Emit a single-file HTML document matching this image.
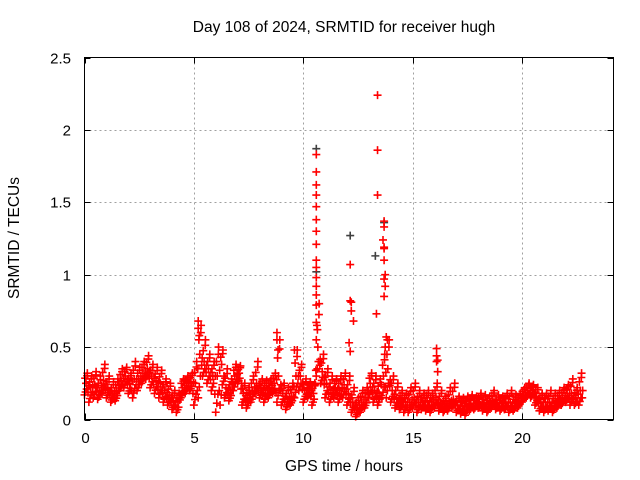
<!DOCTYPE html>
<html><head><meta charset="utf-8"><style>
body{margin:0;background:#fff}
svg{display:block;font-family:"Liberation Sans",sans-serif}
</style></head><body>
<svg id="chart" width="640" height="480">
<text x="344" y="32" font-size="15.5" text-anchor="middle" fill="#000">Day 108 of 2024, SRMTID for receiver hugh</text>
<text x="344" y="471" font-size="15.5" text-anchor="middle" fill="#000">GPS time / hours</text>
<text transform="translate(19,238) rotate(-90)" font-size="15.5" text-anchor="middle" fill="#000">SRMTID / TECUs</text>
<g id="grid"></g>
<g id="ticks"></g>
<g id="marks"></g>
<rect x="84.5" y="57.5" width="529" height="362" fill="none" stroke="#000"/>
</svg>
<script>
const times=[];for(let i=0;i<=113;i++)times.push(+(i*0.2).toFixed(1));
const lo=[.17,.12,.15,.14,.18,.15,.12,.13,.20,.22,.18,.15,.20,.25,.28,.22,.18,.15,.12,.10,.07,.05,.15,.18,.20,.10,.15,.30,.25,.20,.05,.10,.15,.13,.20,.25,.10,.08,.12,.18,.15,.12,.15,.18,.12,.10,.07,.10,.15,.20,.12,.15,.10,.30,.25,.15,.12,.15,.12,.15,.10,.05,.02,.05,.08,.15,.12,.10,.15,.15,.12,.08,.07,.05,.05,.08,.05,.07,.06,.05,.08,.06,.05,.06,.08,.05,.04,.03,.06,.07,.08,.06,.05,.08,.07,.06,.07,.05,.06,.08,.12,.15,.15,.10,.06,.05,.06,.05,.08,.10,.12,.10,.10,.10];
const mid=[.25,.22,.24,.20,.27,.22,.18,.20,.27,.30,.25,.28,.28,.32,.35,.30,.27,.25,.20,.17,.13,.12,.22,.25,.26,.25,.45,.40,.35,.30,.30,.38,.22,.20,.30,.32,.18,.15,.20,.25,.22,.20,.22,.25,.30,.18,.14,.16,.30,.30,.20,.22,.18,.50,.33,.25,.20,.22,.20,.24,.18,.12,.08,.12,.15,.25,.20,.18,.30,.35,.20,.15,.13,.12,.12,.15,.12,.12,.13,.12,.15,.12,.10,.12,.14,.10,.09,.10,.11,.11,.12,.11,.10,.13,.11,.11,.12,.12,.11,.13,.17,.20,.20,.16,.12,.12,.12,.11,.13,.15,.18,.18,.15,.20];
const hi=[.32,.30,.33,.30,.38,.30,.26,.28,.35,.36,.32,.40,.36,.40,.44,.38,.36,.34,.28,.25,.20,.18,.28,.30,.32,.40,.65,.55,.45,.40,.50,.48,.35,.28,.38,.37,.25,.22,.30,.40,.28,.27,.28,.32,.55,.25,.22,.25,.48,.38,.28,.26,.25,.80,.45,.35,.30,.28,.30,.32,.30,.22,.15,.20,.22,.32,.30,.28,.45,.55,.30,.25,.20,.18,.22,.25,.20,.18,.20,.18,.25,.20,.16,.22,.25,.16,.15,.16,.17,.16,.18,.17,.16,.20,.17,.16,.18,.20,.17,.18,.22,.25,.24,.22,.18,.18,.20,.18,.20,.22,.24,.28,.22,.32];
const spikeT=[10.6,10.6,10.6,10.6,10.6,10.6,10.6,10.6,10.6,10.6,10.6,10.6,10.6,10.6,10.6,10.65,10.6,12.15,12.15,12.2,12.2,12.3,12.1,12.15,13.4,13.4,13.4,13.35,13.7,13.7,13.65,13.7,13.7,13.7,13.75,13.7,13.75,13.7,13.8,13.85,13.75,16.1,16.1,16.15,16.1,16.15,8.8,8.8,8.85,9.6,5.2,5.2,5.25];
const spikeV=[1.83,1.71,1.62,1.55,1.47,1.38,1.30,1.21,1.10,1.05,0.98,0.92,0.86,0.79,0.67,0.62,0.55,1.07,0.82,0.81,0.75,0.68,0.53,0.47,2.24,1.86,1.55,0.73,1.37,1.33,1.24,1.19,1.18,1.10,1.00,0.97,0.92,0.85,0.57,0.55,0.50,0.49,0.44,0.41,0.40,0.33,0.60,0.55,0.48,0.48,0.68,0.63,0.58];
const darkT=[10.6,12.15,13.3,10.6,13.7];
const darkV=[1.87,1.27,1.13,1.02,1.36];
const xTicks=[0,5,10,15,20];
const yTicks=[0,0.5,1,1.5,2,2.5];
const yLabels=["0","0.5","1","1.5","2","2.5"];
const NS="http://www.w3.org/2000/svg";
const X0=84.5,X1=613.5,Y0=419.5,Y1=57.5,XMAX=24.19,YMAX=2.5;
const sx=t=>X0+t/XMAX*(X1-X0), sy=v=>Y0-v/YMAX*(Y0-Y1);
const grid=document.getElementById('grid'),ticks=document.getElementById('ticks'),marks=document.getElementById('marks');
function mk(tag,attrs,parent){const e=document.createElementNS(NS,tag);for(const k in attrs)e.setAttribute(k,attrs[k]);parent.appendChild(e);return e;}
xTicks.forEach(t=>{const x=Math.round(sx(t))+0.5;
 if(t>0){const g=mk('line',{x1:x,x2:x,y1:Y1,y2:Y0,stroke:'#a0a0a0','stroke-dasharray':'2,3'},grid);
 
 }
 mk('line',{x1:x,x2:x,y1:Y0,y2:Y0-6,stroke:'#000'},ticks);mk('line',{x1:x,x2:x,y1:Y1,y2:Y1+6,stroke:'#000'},ticks);
 const l=mk('text',{x:x,y:443,'font-size':15,'text-anchor':'middle'},ticks);l.textContent=t;
 
 });
yTicks.forEach((v,i)=>{const y=Math.round(sy(v))+0.5;
 if(v>0&&v<YMAX){const g=mk('line',{x1:X0,x2:X1,y1:y,y2:y,stroke:'#a0a0a0','stroke-dasharray':'2,3'},grid);
 
 }
 mk('line',{x1:X0,x2:X0+6,y1:y,y2:y,stroke:'#000'},ticks);mk('line',{x1:X1,x2:X1-6,y1:y,y2:y,stroke:'#000'},ticks);
 const l=mk('text',{x:71,y:y+5,'font-size':15,'text-anchor':'end'},ticks);l.textContent=yLabels[i];
 
 });
function plus(t,v,col){const x=sx(t),y=sy(v);
 const p=mk('path',{d:`M${x-4},${y}H${x+4}M${x},${y-4}V${y+4}`,stroke:col,'stroke-width':1.6,fill:'none'},marks);
 
 }
darkT.forEach((t,i)=>plus(t,darkV[i],'#404040'));
times.forEach((t,i)=>{
 const n=i<times.length-1?i+1:i;
 plus(t,lo[i],'#f00');plus(t+0.07,mid[i],'#f00');plus(t+0.13,hi[i],'#f00');
 plus(t+0.1,(lo[i]+mid[i])/2,'#f00');plus(t+0.03,(mid[i]+hi[i])/2,'#f00');
 plus(t+0.16,(mid[i]+lo[n])/2,'#f00');plus(t+0.05,(lo[i]*3+mid[i])/4,'#f00');
 plus(t+0.12,(hi[i]*3+mid[i])/4,'#f00');plus(t+0.18,(mid[i]+mid[n])/2,'#f00');});
spikeT.forEach((t,i)=>plus(t,spikeV[i],'#f00'));
</script>
</body></html>
